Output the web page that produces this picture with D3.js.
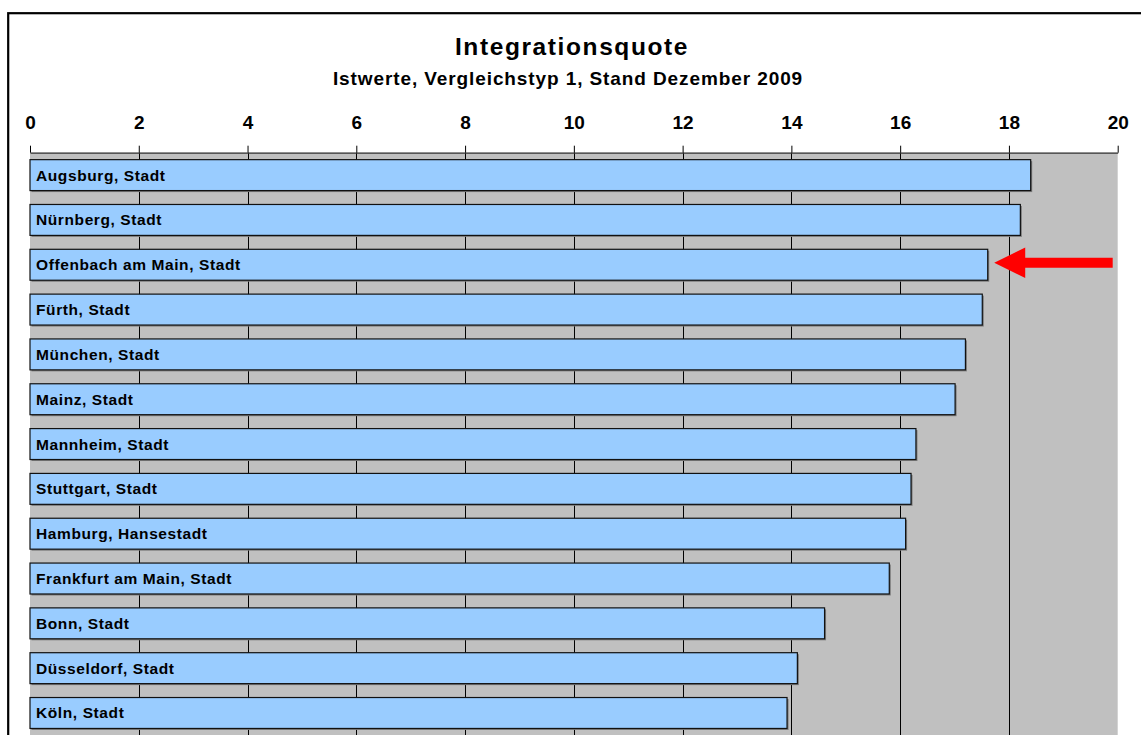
<!DOCTYPE html>
<html>
<head>
<meta charset="utf-8">
<script src="https://cdn.jsdelivr.net/npm/d3@7"></script>
<style>
  body { margin: 0; background: #fff; }
  text { font-family: "Liberation Sans", Arial, sans-serif; font-weight: bold; fill: #000; }
</style>
</head>
<body>
<script>
// Integrationsquote, Istwerte, Vergleichstyp 1, Stand Dezember 2009

var cities = [
  "Augsburg, Stadt", "Nürnberg, Stadt", "Offenbach am Main, Stadt", "Fürth, Stadt",
  "München, Stadt", "Mainz, Stadt", "Mannheim, Stadt", "Stuttgart, Stadt",
  "Hamburg, Hansestadt", "Frankfurt am Main, Stadt", "Bonn, Stadt",
  "Düsseldorf, Stadt", "Köln, Stadt"
];
var quote = [18.40, 18.21, 17.61, 17.51, 17.20, 17.01, 16.29, 16.20, 16.10, 15.80, 14.61, 14.11, 13.92];
var xTicks = [0, 2, 4, 6, 8, 10, 12, 14, 16, 18, 20];
var highlight = "Offenbach am Main, Stadt";

var titleText = "Integrationsquote";
var subtitleText = "Istwerte, Vergleichstyp 1, Stand Dezember 2009";

window.onload = function() {

  var chart = {
    w: 1141,
    h: 735,
    left: 30,
    right: 1117.7,
    top: 152.7,
    bottom: 735.4
  };

  var data = cities.map(function(c, i) { return { city: c, value: quote[i] }; });

  var svg = d3.select("body")
            .append("svg")
              .attr("width", chart.w)
              .attr("height", chart.h);

  // outer frame (runs off the right and bottom edge)
  svg.append("rect")
     .attr("x", 8.2).attr("y", 13.2)
     .attr("width", 1200).attr("height", 800)
     .attr("fill", "none")
     .attr("stroke", "#000")
     .attr("stroke-width", 2.2);

  // titles
  svg.append("text")
     .attr("x", 572).attr("y", 55)
     .attr("text-anchor", "middle")
     .style("font-size", "24.5px")
     .style("letter-spacing", "1.6px")
     .text(titleText);

  svg.append("text")
     .attr("x", 568).attr("y", 85)
     .attr("text-anchor", "middle")
     .style("font-size", "19px")
     .style("letter-spacing", "0.9px")
     .text(subtitleText);

  var xScale = d3.scaleLinear()
                 .domain([0, 20])
                 .range([chart.left, chart.right]);

  var yScale = d3.scaleBand()
                 .domain(cities)
                 .range([chart.top, chart.bottom])
                 .paddingInner(0.31)
                 .paddingOuter(0.155);

  // plot area
  svg.append("rect")
     .attr("x", chart.left).attr("y", chart.top)
     .attr("width", chart.right - chart.left)
     .attr("height", chart.bottom - chart.top)
     .attr("fill", "#c0c0c0");

  // vertical grid lines
  svg.selectAll("line.grid")
     .data(xTicks.filter(function(t) { return t > 0 && t < 20; }))
     .enter()
   .append("line")
     .attr("class", "grid")
     .attr("x1", function(d) { return Math.round(xScale(d)) + 0.5; })
     .attr("x2", function(d) { return Math.round(xScale(d)) + 0.5; })
     .attr("y1", chart.top)
     .attr("y2", chart.bottom)
     .attr("stroke", "#000")
     .attr("stroke-width", 1);

  // axis on top
  var xAxis = d3.axisTop(xScale)
                .tickValues(xTicks)
                .tickSize(7)
                .tickSizeOuter(0)
                .tickPadding(17)
                .tickFormat(d3.format("d"));

  var gx = svg.append("g")
              .attr("transform", "translate(0," + chart.top + ")")
              .call(xAxis);
  gx.select(".domain").attr("stroke", "#333").attr("stroke-width", 1.2);
  gx.selectAll(".tick line").attr("stroke", "#000");
  gx.selectAll(".tick text")
    .attr("font-family", null)
    .style("font-size", "19px")
    .style("fill", "#000");

  // bar shadows
  svg.selectAll("rect.shadow")
     .data(data)
     .enter()
   .append("rect")
     .attr("class", "shadow")
     .attr("x", xScale(0) + 1.5)
     .attr("y", function(d) { return yScale(d.city) + 1.5; })
     .attr("width", function(d) { return xScale(d.value) - xScale(0); })
     .attr("height", yScale.bandwidth())
     .attr("fill", "#7a7a7a");

  // bars
  svg.selectAll("rect.bar")
     .data(data)
     .enter()
   .append("rect")
     .attr("class", "bar")
     .attr("x", xScale(0))
     .attr("y", function(d) { return yScale(d.city); })
     .attr("width", function(d) { return xScale(d.value) - xScale(0); })
     .attr("height", yScale.bandwidth())
     .attr("fill", "#99ccff")
     .attr("stroke", "#111")
     .attr("stroke-width", 1.2);

  // labels inside the bars
  svg.selectAll("text.label")
     .data(data)
     .enter()
   .append("text")
     .attr("class", "label")
     .attr("x", xScale(0) + 6)
     .attr("y", function(d) { return yScale(d.city) + yScale.bandwidth() / 2 + 5.5; })
     .style("font-size", "15.5px")
     .style("letter-spacing", "0.6px")
     .text(function(d) { return d.city; });

  // red arrow pointing at the highlighted city
  var hi = data.filter(function(d) { return d.city === highlight; })[0];
  var cy = yScale(hi.city) + yScale.bandwidth() / 2 - 2;
  var tip = xScale(hi.value) + 6.5;
  var headBase = tip + 31;
  var tail = chart.right - 5;
  svg.append("path")
     .attr("d", "M" + tip + "," + cy +
                "L" + headBase + "," + (cy - 15.2) +
                "L" + headBase + "," + (cy - 5) +
                "L" + tail + "," + (cy - 5) +
                "L" + tail + "," + (cy + 5) +
                "L" + headBase + "," + (cy + 5) +
                "L" + headBase + "," + (cy + 15.2) + "Z")
     .attr("fill", "#ff0000");
};
</script>
</body>
</html>
